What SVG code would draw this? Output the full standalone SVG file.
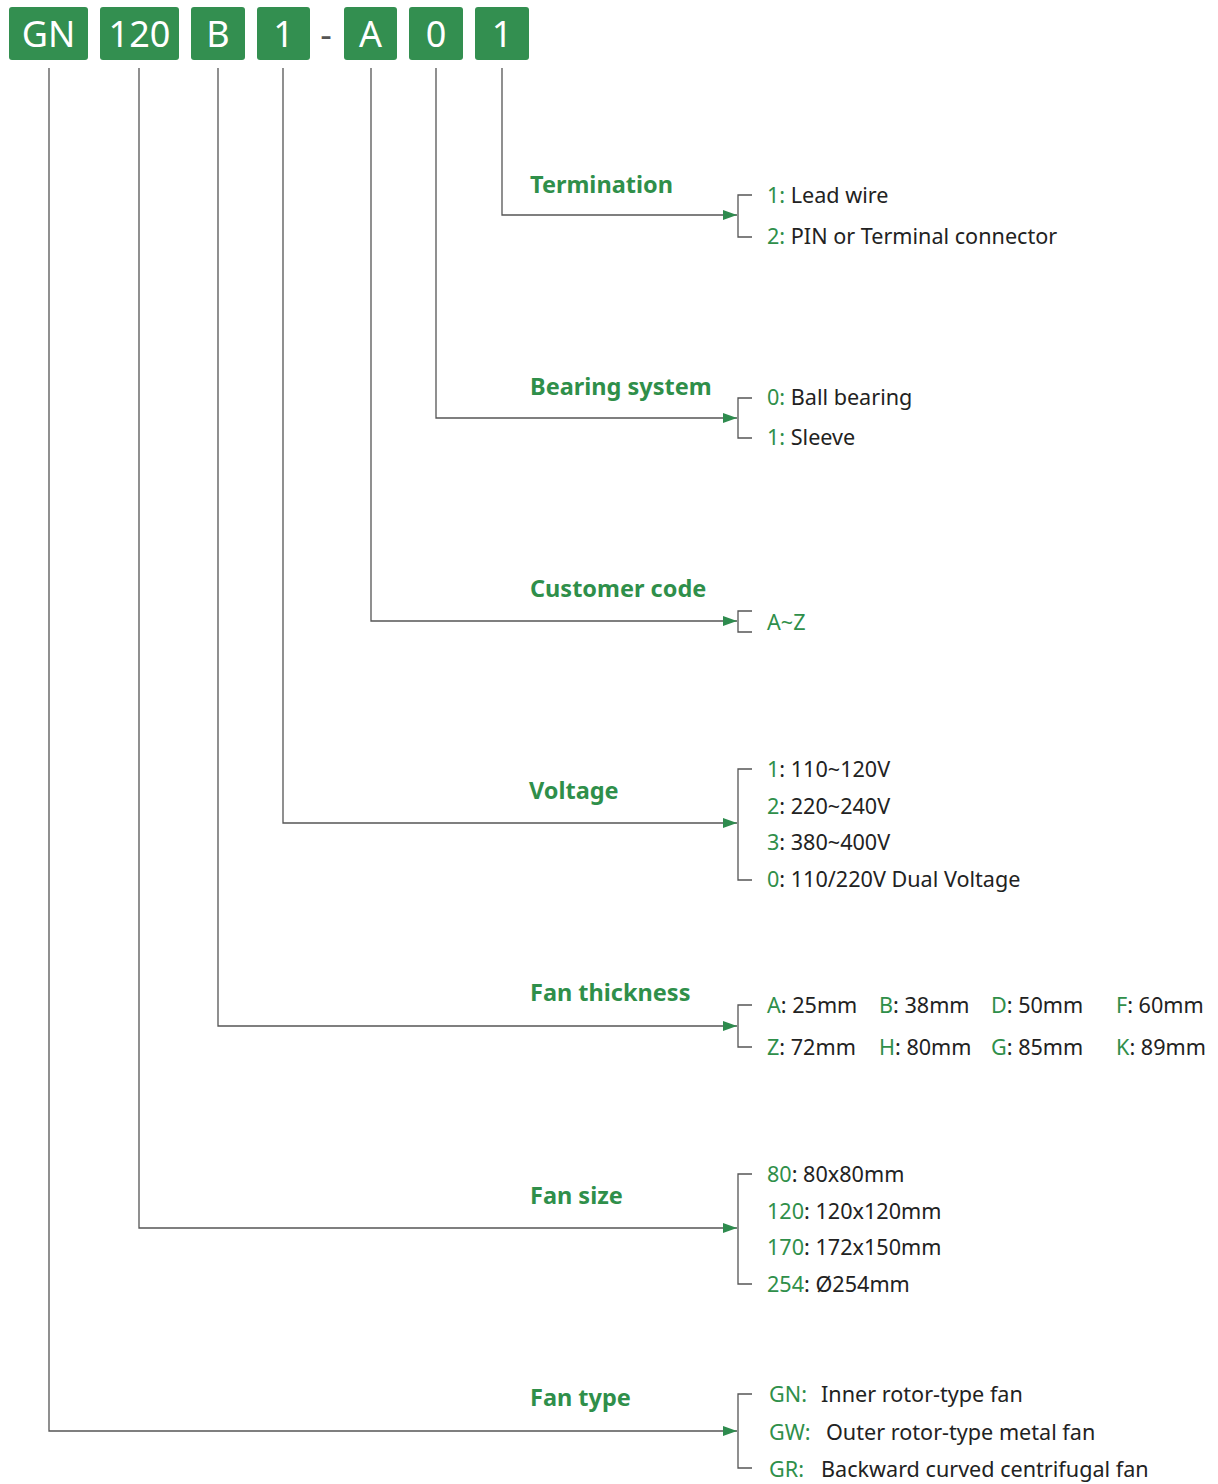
<svg xmlns="http://www.w3.org/2000/svg" width="1218" height="1484" viewBox="0 0 1218 1484">
<defs>
<marker id="arr" viewBox="0 0 14 10" refX="14" refY="5" markerWidth="14" markerHeight="10" markerUnits="userSpaceOnUse" orient="auto">
<path d="M0,0 L14,5 L0,10 Z" fill="#2e8b4e"/>
</marker>
<style>
.box{fill:#338f50;}
.bt{font-family:"Noto Sans","Open Sans",sans-serif;font-size:36px;fill:#fff;text-anchor:middle;}
.ln{fill:none;stroke:#555;stroke-width:1.3;}
.lbl{font-family:"Noto Sans","Open Sans",sans-serif;font-size:23.5px;font-weight:bold;fill:#2f8f4a;}
.opt{font-family:"Noto Sans","Open Sans",sans-serif;font-size:21.6px;fill:#222;}
.g{fill:#2f8f4a;}
</style>
</defs>
<rect width="1218" height="1484" fill="#fff"/>
<g id="code">
<g id="box-gn"><rect class="box" x="9" y="7" width="79" height="53" rx="3"/><text class="bt" x="48.5" y="47">GN</text></g>
<g id="box-120"><rect class="box" x="100" y="7" width="79" height="53" rx="3"/><text class="bt" x="139.5" y="47">120</text></g>
<g id="box-b"><rect class="box" x="191" y="7" width="54" height="53" rx="3"/><text class="bt" x="218" y="47">B</text></g>
<g id="box-1a"><rect class="box" x="257" y="7" width="53" height="53" rx="3"/><text class="bt" x="283.5" y="47">1</text></g>
<g id="dash"><text class="bt" x="326" y="47" style="fill:#555">-</text></g>
<g id="box-a"><rect class="box" x="344" y="7" width="53" height="53" rx="3"/><text class="bt" x="370.5" y="47">A</text></g>
<g id="box-0"><rect class="box" x="409" y="7" width="54" height="53" rx="3"/><text class="bt" x="436" y="47">0</text></g>
<g id="box-1b"><rect class="box" x="475" y="7" width="54" height="53" rx="3"/><text class="bt" x="502" y="47">1</text></g>
</g>
<g id="connectors">
<path class="ln" d="M502,68 V215 H737" marker-end="url(#arr)"/>
<path class="ln" d="M436,68 V418 H737" marker-end="url(#arr)"/>
<path class="ln" d="M371,68 V621 H737" marker-end="url(#arr)"/>
<path class="ln" d="M283,68 V823 H737" marker-end="url(#arr)"/>
<path class="ln" d="M218,68 V1026 H737" marker-end="url(#arr)"/>
<path class="ln" d="M139,68 V1228 H737" marker-end="url(#arr)"/>
<path class="ln" d="M49,68 V1431 H737" marker-end="url(#arr)"/>
<path class="ln" d="M752,195 H738 V237 H752"/>
<path class="ln" d="M752,398 H738 V438 H752"/>
<path class="ln" d="M752,611 H738 V632 H752"/>
<path class="ln" d="M752,769 H738 V880 H752"/>
<path class="ln" d="M752,1005 H738 V1047 H752"/>
<path class="ln" d="M752,1174 H738 V1284 H752"/>
<path class="ln" d="M752,1394 H738 V1468 H752"/>
</g>
<g id="termination">
<text class="lbl" x="530" y="193">Termination</text>
<text class="opt" x="767" y="203"><tspan class="g">1:</tspan> Lead wire</text>
<text class="opt" x="767" y="244"><tspan class="g">2:</tspan> PIN or Terminal connector</text>
</g>
<g id="bearing">
<text class="lbl" x="530" y="395">Bearing system</text>
<text class="opt" x="767" y="405"><tspan class="g">0:</tspan> Ball bearing</text>
<text class="opt" x="767" y="445"><tspan class="g">1:</tspan> Sleeve</text>
</g>
<g id="customer">
<text class="lbl" x="530" y="597">Customer code</text>
<text class="opt g" x="767" y="630">A~Z</text>
</g>
<g id="voltage">
<text class="lbl" x="529" y="799">Voltage</text>
<text class="opt" x="767" y="777"><tspan class="g">1</tspan>: 110~120V</text>
<text class="opt" x="767" y="814"><tspan class="g">2</tspan>: 220~240V</text>
<text class="opt" x="767" y="850"><tspan class="g">3</tspan>: 380~400V</text>
<text class="opt" x="767" y="887"><tspan class="g">0</tspan>: 110/220V Dual Voltage</text>
</g>
<g id="thickness">
<text class="lbl" x="530" y="1001">Fan thickness</text>
<text class="opt" x="767" y="1013"><tspan class="g">A</tspan>: 25mm</text>
<text class="opt" x="879" y="1013"><tspan class="g">B</tspan>: 38mm</text>
<text class="opt" x="991" y="1013"><tspan class="g">D</tspan>: 50mm</text>
<text class="opt" x="1116" y="1013"><tspan class="g">F</tspan>: 60mm</text>
<text class="opt" x="767" y="1055"><tspan class="g">Z</tspan>: 72mm</text>
<text class="opt" x="879" y="1055"><tspan class="g">H</tspan>: 80mm</text>
<text class="opt" x="991" y="1055"><tspan class="g">G</tspan>: 85mm</text>
<text class="opt" x="1116" y="1055"><tspan class="g">K</tspan>: 89mm</text>
</g>
<g id="size">
<text class="lbl" x="530" y="1204">Fan size</text>
<text class="opt" x="767" y="1182"><tspan class="g">80</tspan>: 80x80mm</text>
<text class="opt" x="767" y="1219"><tspan class="g">120</tspan>: 120x120mm</text>
<text class="opt" x="767" y="1255"><tspan class="g">170</tspan>: 172x150mm</text>
<text class="opt" x="767" y="1292"><tspan class="g">254</tspan>: Ø254mm</text>
</g>
<g id="type">
<text class="lbl" x="530" y="1406">Fan type</text>
<text class="opt g" x="769" y="1402">GN:</text><text class="opt" x="821" y="1402">Inner rotor-type fan</text>
<text class="opt g" x="769" y="1440">GW:</text><text class="opt" x="826" y="1440">Outer rotor-type metal fan</text>
<text class="opt g" x="769" y="1477">GR:</text><text class="opt" x="821" y="1477">Backward curved centrifugal fan</text>
</g>
</svg>
